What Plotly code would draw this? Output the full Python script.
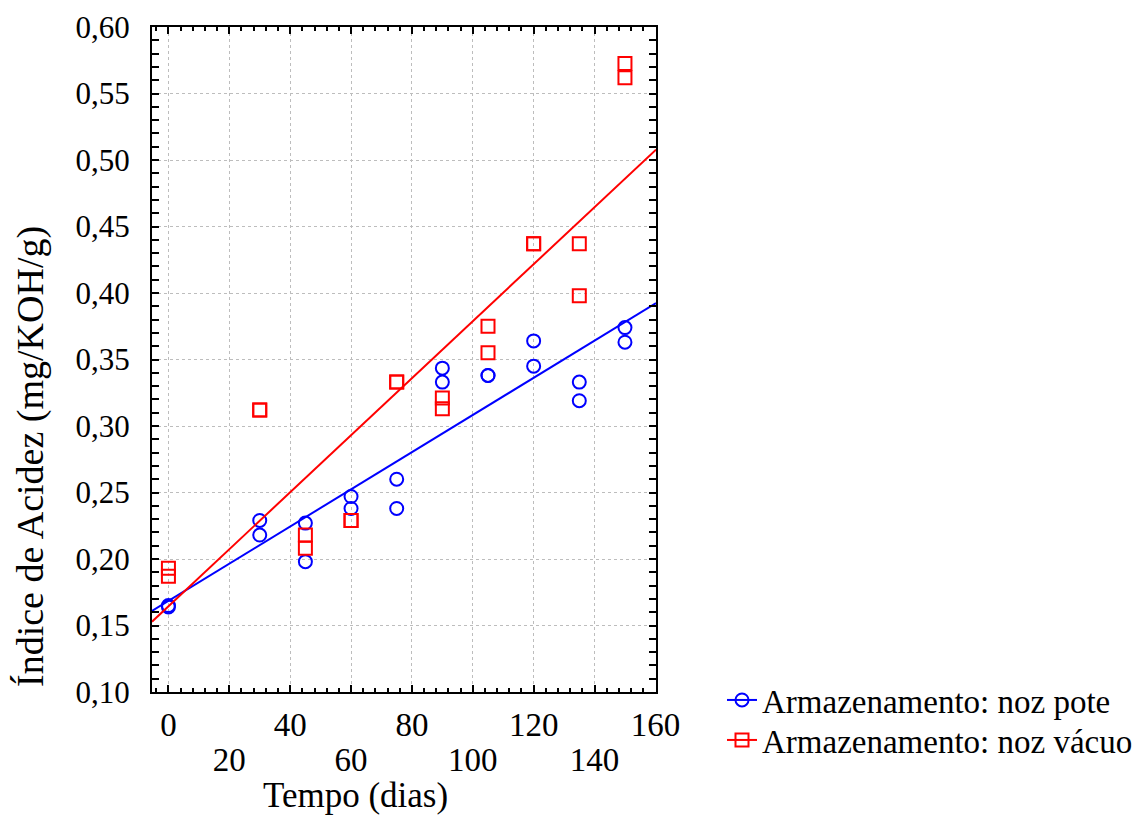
import numpy as np
import plotly.graph_objects as go

# ---- data ----
days = [0, 0, 30, 30, 45, 45, 60, 60, 75, 75, 90, 90, 105, 105, 120, 120, 135, 135, 150, 150]
pote = [0.164, 0.165, 0.229, 0.218, 0.227, 0.198, 0.247, 0.238, 0.260, 0.238,
        0.3435, 0.333, 0.338, 0.338, 0.364, 0.345, 0.333, 0.319, 0.374, 0.363]
vacuo = [0.193, 0.187, 0.312, 0.312, 0.218, 0.208, 0.229, 0.229, 0.333, 0.333,
         0.321, 0.313, 0.375, 0.355, 0.437, 0.437, 0.437, 0.398, 0.5725, 0.5618]

series_names = ["Armazenamento: noz pote", "Armazenamento: noz vácuo"]
x_title = "Tempo (dias)"
y_title = "Índice de Acidez (mg/KOH/g)"
x_row1 = [0, 40, 80, 120, 160]
x_row2 = [20, 60, 100, 140]
x_range = [-5.4, 160.2]
y_range = [0.10, 0.60]

BLUE = "#0000FF"
RED = "#FF0000"
FONT = "Liberation Serif, Times New Roman, serif"

# page has an 8px body margin; figure coordinates below are page - 8
W, H = 1140, 829
L, R_EDGE, T, B_EDGE = 144, 648, 19, 684  # plot area in figure px
PW, PH = R_EDGE - L, B_EDGE - T


def px_x(p):
    return (p - 8 - L) / PW


def px_y(p):
    return (B_EDGE - (p - 8)) / PH


fig = go.Figure()

xs = np.array(days, dtype=float)
xfit = np.array(x_range)
for yv, color, sym in [(pote, BLUE, "circle-open"), (vacuo, RED, "square-open")]:
    k, b = np.polyfit(xs, np.array(yv), 1)
    fig.add_trace(go.Scatter(x=xfit, y=k * xfit + b, mode="lines",
                             line=dict(color=color, width=2), showlegend=False,
                             hoverinfo="skip"))
    fig.add_trace(go.Scatter(x=days, y=yv, mode="markers", showlegend=False,
                             marker=dict(symbol=sym, size=13, color=color,
                                         line=dict(width=2, color=color))))

# legend-only entries (line + marker), each in its own legend box
for name, color, sym, lg in [(series_names[0], BLUE, "circle-open", "legend"),
                             (series_names[1], RED, "square-open", "legend2")]:
    fig.add_trace(go.Scatter(x=[None], y=[None], mode="lines+markers", name=name,
                             xaxis="x2", legend=lg,
                             line=dict(color=color, width=2),
                             marker=dict(symbol=sym, size=13, color=color,
                                         line=dict(width=2, color=color))))

grid = dict(gridcolor="#bdbdbd", gridwidth=1, griddash="3px,3px")
legend_common = dict(xanchor="left", yanchor="middle", font=dict(size=33, family=FONT),
                     bgcolor="rgba(0,0,0,0)", itemwidth=30)

fig.update_layout(
    width=W, height=H,
    margin=dict(l=L, r=W - R_EDGE, t=T, b=H - B_EDGE, autoexpand=False),
    paper_bgcolor="white", plot_bgcolor="white",
    separators=",.",
    font=dict(family=FONT, color="black", size=32),
    xaxis=dict(range=x_range, tickmode="linear", tick0=0, dtick=20, automargin=False,
               labelalias={str(v): " " for v in x_row2},
               ticks="inside", ticklen=7, tickwidth=2, tickcolor="black",
               showline=True, linecolor="black", linewidth=2, mirror="allticks",
               zeroline=False, showgrid=True, **grid,
               tickfont=dict(size=33, family=FONT), ticklabelstandoff=2,
               minor=dict(tickmode="linear", tick0=0, dtick=4, ticks="inside",
                          ticklen=4, tickwidth=1.5, tickcolor="black", showgrid=False)),
    xaxis2=dict(range=x_range, overlaying="x", anchor="y", side="bottom", automargin=False,
                tickmode="array", tickvals=x_row2, ticktext=[str(v) for v in x_row2],
                ticks="", showline=False, showgrid=False, zeroline=False,
                tickfont=dict(size=33, family=FONT), ticklabelstandoff=45),
    yaxis=dict(range=y_range, tickmode="linear", tick0=0.10, dtick=0.05, tickformat=".2f",
               automargin=False,
               ticks="inside", ticklen=7, tickwidth=2, tickcolor="black",
               showline=True, linecolor="black", linewidth=2, mirror="allticks",
               zeroline=False, showgrid=True, **grid,
               tickfont=dict(size=31, family=FONT), ticklabelstandoff=14,
               minor=dict(tickmode="linear", tick0=0.10, dtick=0.01, ticks="inside",
                          ticklen=4, tickwidth=1.5, tickcolor="black", showgrid=False)),
    legend=dict(x=px_x(722), y=px_y(700), **legend_common),
    legend2=dict(x=px_x(722), y=px_y(740), **legend_common),
    annotations=[
        dict(text=x_title, xref="paper", yref="paper", x=px_x(355),
             y=px_y(795), xanchor="center", yanchor="middle",
             showarrow=False, font=dict(size=35, family=FONT)),
        dict(text=y_title, xref="paper", yref="paper", x=px_x(30),
             y=px_y(457), xanchor="center", yanchor="middle", textangle=-90,
             showarrow=False, font=dict(size=38, family=FONT)),
    ],
)

fig.write_html("out.html")
